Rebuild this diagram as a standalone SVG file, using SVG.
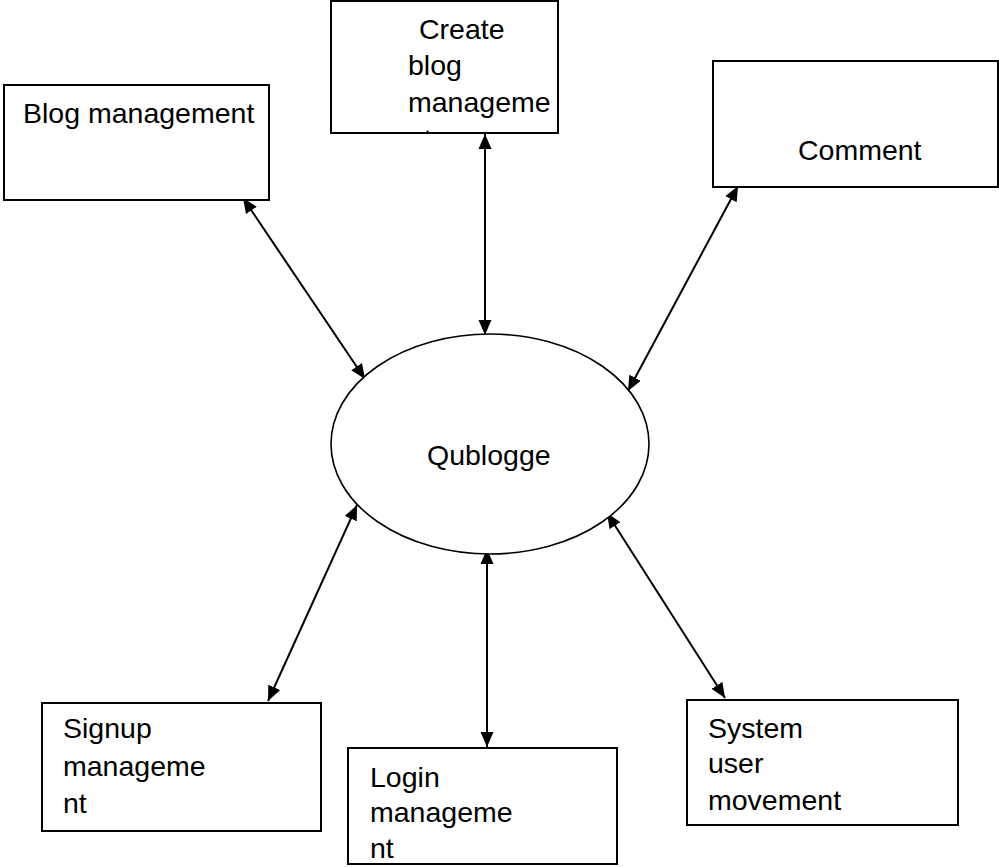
<svg xmlns="http://www.w3.org/2000/svg" width="999" height="867" viewBox="0 0 999 867">
<style>
.box{fill:#fff;stroke:#000;stroke-width:2}
.ell{fill:#fff;stroke:#000;stroke-width:1.6}
.t{font-family:"Liberation Sans",Arial,sans-serif;font-size:28.5px;fill:#000}
.c{stroke:#000;stroke-width:2;fill:none;marker-start:url(#ah);marker-end:url(#ah)}
</style>
<defs>
<marker id="ah" markerUnits="userSpaceOnUse" markerWidth="16" markerHeight="14" refX="15" refY="7" orient="auto-start-reverse">
<path d="M0,0.5 L15,7 L0,13.5 z" fill="#000"/>
</marker>
<clipPath id="clipCreate"><rect x="331" y="2" width="227" height="130"/></clipPath>
</defs>
<rect width="999" height="867" fill="#fff"/>
<g id="connectors">
<line class="c" x1="243" y1="198" x2="365" y2="379"/>
<line class="c" x1="485" y1="134" x2="485" y2="335"/>
<line class="c" x1="738" y1="186" x2="628" y2="391"/>
<line class="c" x1="357" y1="505" x2="268" y2="701"/>
<line class="c" x1="487" y1="549" x2="487" y2="747"/>
<line class="c" x1="607" y1="513" x2="725" y2="698"/>
</g>
<g id="blog-management">
<rect class="box" x="4" y="85" width="265" height="115"/>
<text class="t" x="23" y="123">Blog management</text>
</g>
<g id="create-blog">
<rect class="box" x="331" y="1" width="227" height="132"/>
<g clip-path="url(#clipCreate)">
<text class="t" x="419" y="39">Create</text>
<text class="t" x="408" y="75">blog</text>
<text class="t" x="408" y="112">manageme</text>
<text class="t" x="408" y="149">nt</text>
</g>
</g>
<g id="comment">
<rect class="box" x="713" y="61" width="285" height="126"/>
<text class="t" x="798" y="160">Comment</text>
</g>
<g id="qublogge">
<ellipse class="ell" cx="490" cy="444" rx="159" ry="110"/>
<text class="t" x="427" y="465">Qublogge</text>
</g>
<g id="signup">
<rect class="box" x="42" y="703" width="279" height="128"/>
<text class="t" x="63" y="738">Signup</text>
<text class="t" x="63" y="776">manageme</text>
<text class="t" x="63" y="813">nt</text>
</g>
<g id="login">
<rect class="box" x="348" y="748" width="269" height="116"/>
<text class="t" x="370" y="787">Login</text>
<text class="t" x="370" y="822">manageme</text>
<text class="t" x="370" y="858">nt</text>
</g>
<g id="system-user">
<rect class="box" x="687" y="700" width="271" height="125"/>
<text class="t" x="708" y="738">System</text>
<text class="t" x="708" y="773">user</text>
<text class="t" x="708" y="810">movement</text>
</g>
</svg>
